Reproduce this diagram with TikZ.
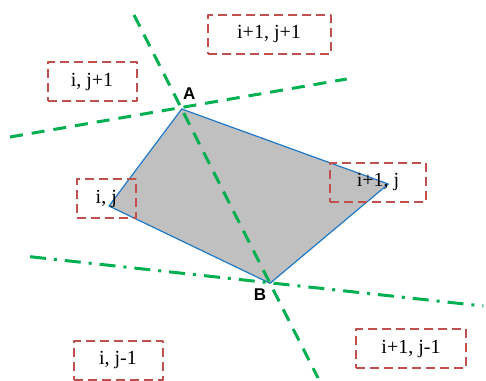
\documentclass[tikz,border=0pt]{standalone}
\usepackage{fontspec}
\setmainfont{Liberation Serif}
\newfontfamily\vertexfont{Liberation Sans}
\definecolor{linegreen}{RGB}{0,176,80}
\definecolor{boxred}{RGB}{192,80,77}
\definecolor{edgeblue}{RGB}{30,120,200}
\definecolor{cellgray}{RGB}{192,192,192}
\begin{document}
\begin{tikzpicture}[
    x=1pt, y=-1pt,
    line join=round,
    gridline/.style={draw=linegreen,line width=3pt,dash pattern=on 13pt off 9pt},
    gridlinedot/.style={draw=linegreen,line width=3pt,dash pattern=on 16pt off 8pt on 3pt off 8pt},
    cellbox/.style={draw=boxred,line width=2pt,dash pattern=on 9pt off 5pt,
        minimum height=39pt,inner sep=0pt,font=\fontsize{20}{22}\selectfont},
    vertex/.style={font=\vertexfont\bfseries\fontsize{17}{19}\selectfont}
]
\useasboundingbox (0,0) rectangle (486,380);

% -------------------------------------------------
% Vertices of the cell
% -------------------------------------------------
\coordinate (A) at (181.7,109);   % upper
\coordinate (L) at (109,206);     % left
\coordinate (B) at (270,283.3);   % lower
\coordinate (R) at (388.3,184);   % right

% -------------------------------------------------
% End points of the grid lines
% -------------------------------------------------
\coordinate (N1) at (134,15);     % steep line, top
\coordinate (N2) at (318,378);    % steep line, bottom
\coordinate (U1) at (10,137);     % upper line, left
\coordinate (U2) at (346.7,79);   % upper line, right
\coordinate (D1) at (30,256.7);   % lower line, left
\coordinate (D2) at (483.3,306);  % lower line, right

% -------------------------------------------------
% Cell
% -------------------------------------------------
\draw[edgeblue,line width=1.2pt,fill=cellgray] (A)--(R)--(B)--(L)--cycle;

% -------------------------------------------------
% Grid lines
% -------------------------------------------------
\draw[gridline] (N1)--(A)--(B)--(N2);
\draw[gridline] (U1)--(U2);
\draw[gridlinedot] (D1)--(D2);

% -------------------------------------------------
% Cell indices
% -------------------------------------------------
\node[cellbox,minimum width=123pt] (tr) at (269,34.5)   {i+1, j+1};
\node[cellbox,minimum width=89pt]  (tl) at (92,81.7)    {i, j+1};
\node[cellbox,minimum width=59pt]  (ml) at (106.3,198.8) {i, j};
\node[cellbox,minimum width=96pt]  (mr) at (378,182.2)  {i+1, j};
\node[cellbox,minimum width=89pt]  (bl) at (118,360)    {i, j-1};
\node[cellbox,minimum width=110pt] (br) at (411,348.8)  {i+1, j-1};

% -------------------------------------------------
% Labels
% -------------------------------------------------
\node[vertex] (labA) at (189.3,93.3) {A};
\node[vertex] (labB) at (260,295) {B};

\end{tikzpicture}
\end{document}
